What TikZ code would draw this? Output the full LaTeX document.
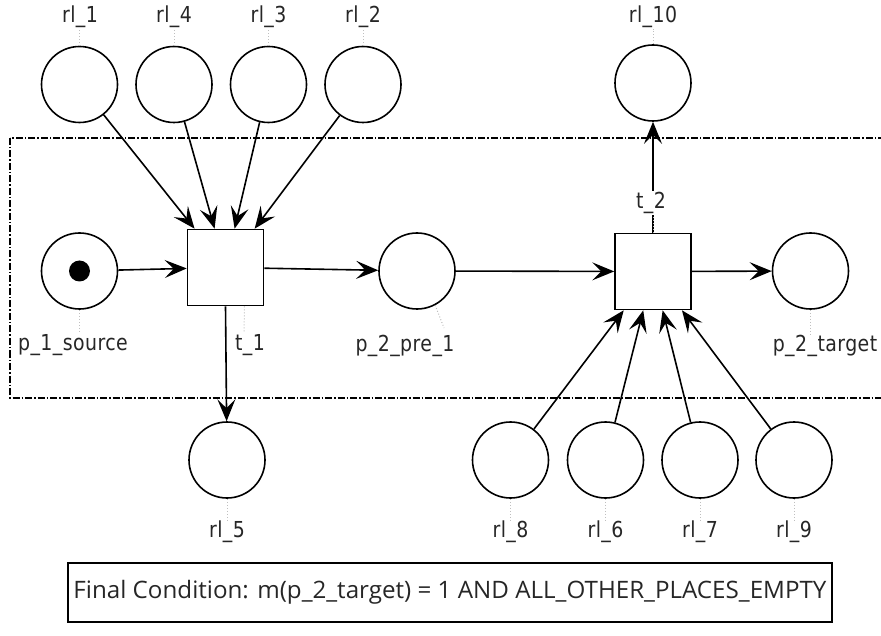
\documentclass[tikz,border=0pt]{standalone}
\usepackage{fontspec}
\usepackage{graphicx}
\setmainfont{DejaVu Sans}
\newfontfamily\labfont[FakeStretch=0.86,LetterSpace=2]{DejaVu Sans}
\newfontfamily\notefont{Open Sans}
\usetikzlibrary{arrows.meta}

\begin{document}
\begin{tikzpicture}[x=1pt,y=-1pt,
  place/.style={circle,draw,line width=1.6pt,minimum size=76pt,inner sep=0pt},
  trans/.style={rectangle,draw,line width=1.6pt,minimum size=76pt,inner sep=0pt},
  token/.style={circle,fill=black,minimum size=21pt,inner sep=0pt},
  lbl/.style={font=\labfont\fontsize{22}{25}\selectfont,inner sep=1pt,text=black!85},
  leader/.style={draw=black!25,line width=1pt,dotted},
  arc/.style={draw,line width=1.6pt,-{Stealth[length=22pt,width=18pt,inset=9pt]}},
  region/.style={draw,line width=1.2pt,dash pattern=on 7pt off 2pt on 1.5pt off 2pt},
  notebox/.style={draw,line width=1.3pt,minimum width=764pt,minimum height=59pt,inner sep=0pt},
]
\useasboundingbox (0,0) rectangle (881,636);
\clip (0,0) rectangle (881,636);

% open region boundary (right side runs off the sheet)
\draw[region] (10,138) rectangle (900,398);

% places above t_1
\node[place] (rl1) at (79.5,84.5) {};
\node[place] (rl4) at (174,84.5) {};
\node[place] (rl3) at (268.5,84.5) {};
\node[place] (rl2) at (363,84.5) {};
\node[place] (rl10) at (653,83) {};

% main row
\node[place] (p1) at (79.5,271) {};
\node[token] (tok) at (p1) {};
\node[trans] (t1) at (225.5,267.5) {};
\node[place] (p2) at (417,271) {};
\node[trans] (t2) at (653,271.5) {};
\node[place] (p2t) at (810.5,271) {};

% places below
\node[place] (rl5) at (227,460) {};
\node[place] (rl8) at (510.5,460) {};
\node[place] (rl6) at (605.5,460) {};
\node[place] (rl7) at (700,460) {};
\node[place] (rl9) at (794,460) {};

% arcs
\draw[arc] (p1) -- (t1);
\draw[arc] (t1) -- (p2);
\draw[arc] (p2) -- (t2);
\draw[arc] (t2) -- (p2t);
\draw[arc] (t1.south) -- (rl5);
\draw[arc] (t2) -- (rl10);
\draw[arc] (rl1) -- (t1);
\draw[arc] (rl4) -- (t1);
\draw[arc] (rl3) -- (t1);
\draw[arc] (rl2) -- (t1);
\draw[arc] (rl8) -- (t2);
\draw[arc] (rl6) -- (t2);
\draw[arc] (rl7) -- (t2);
\draw[arc] (rl9) -- (t2);

% labels
\node[lbl] (l1) at (80,17) {rl\_1};
\node[lbl] (l4) at (174,17) {rl\_4};
\node[lbl] (l3) at (268.5,17) {rl\_3};
\node[lbl] (l2) at (363,17) {rl\_2};
\node[lbl] (l10) at (653,17) {rl\_10};
\node[lbl] (l5) at (227,532) {rl\_5};
\node[lbl] (l8) at (510.5,532) {rl\_8};
\node[lbl] (l6) at (605.5,532) {rl\_6};
\node[lbl] (l7) at (700,532) {rl\_7};
\node[lbl] (l9) at (794,532) {rl\_9};
\node[lbl] (lp1) at (73,345) {p\_1\_source};
\node[lbl] (lt1) at (250,345) {t\_1};
\node[lbl] (lp2) at (405,346) {p\_2\_pre\_1};
\node[lbl,fill=white] (lt2) at (651,203) {t\_2};
\node[lbl] (lp2t) at (825,346) {p\_2\_target};

% label leaders
\foreach \n/\l in {rl1/l1,rl4/l4,rl3/l3,rl2/l2,rl10/l10}
  \draw[leader] (\n.north) -- (\n.north |- \l.south);
\foreach \n/\l in {rl5/l5,rl8/l8,rl6/l6,rl7/l7,rl9/l9,p1/lp1,p2t/lp2t}
  \draw[leader] (\n.south) -- (\n.south |- \l.north);
\draw[leader] ([xshift=19pt]t1.south) -- ([xshift=-6pt]lt1.north);
\coordinate (p2lead) at (444,328);
\draw[leader] (p2.-62) -- (p2lead);
\draw[leader] (t2.north) -- (t2.north |- lt2.south);

% final condition
\node[notebox] (fc) at (450,592.5) {\resizebox{753pt}{\height}{\notefont\fontsize{24}{26}\selectfont\color{black!85}Final Condition: m(p\_2\_target) = 1 AND ALL\_OTHER\_PLACES\_EMPTY}};
\end{tikzpicture}
\end{document}
